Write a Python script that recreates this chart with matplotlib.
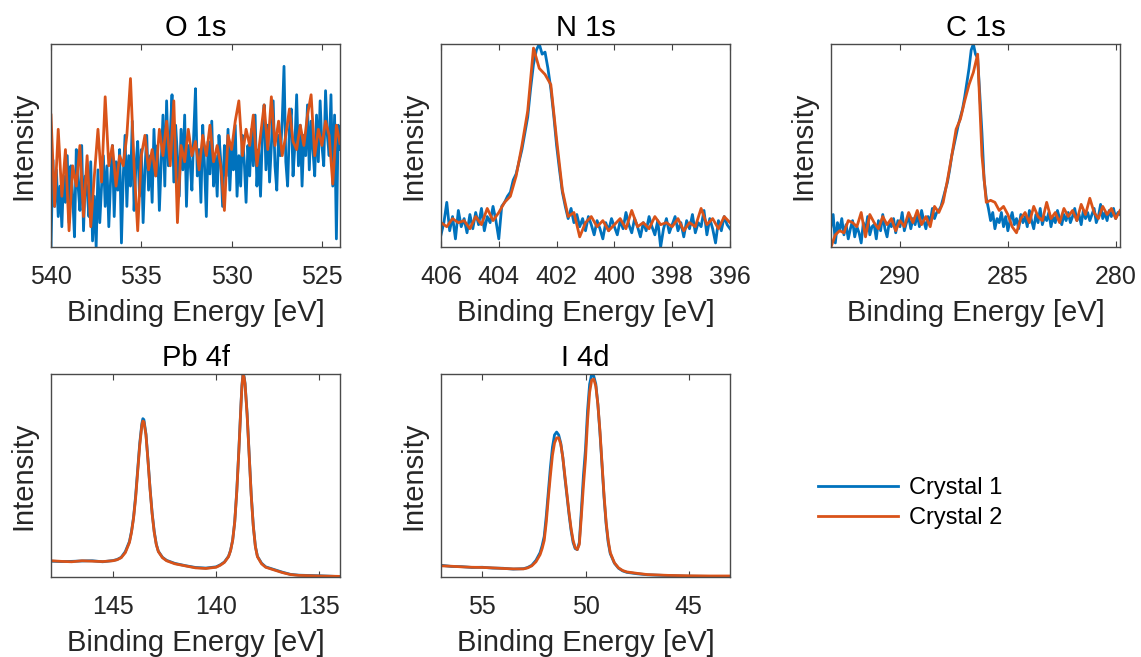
import matplotlib.pyplot as plt
import numpy as np

plt.rcParams['font.family'] = ['Liberation Sans', 'DejaVu Sans']

blue = '#0072BD'
orange = '#D95319'

# O 1s (normalised intensity)
o1s_x1 = np.round(np.arange(540.0, 523.95, -0.1), 2)
o1s_y1 = [0.00, 0.43, 0.20, 0.38, 0.15, 0.30, 0.10, 0.35, 0.22, 0.45,
          0.12, 0.40, 0.25, 0.05, 0.48, 0.30, 0.18, 0.50, 0.08, 0.35,
          0.28, 0.15, 0.42, 0.03, 0.25, 0.00, 0.38, 0.12, 0.30, 0.45,
          0.20, 0.40, 0.10, 0.33, 0.50, 0.15, 0.42, 0.28, 0.48, 0.02,
          0.35, 0.55, 0.20, 0.45, 0.30, 0.62, 0.18, 0.40, 0.52, 0.25,
          0.48, 0.12, 0.38, 0.55, 0.28, 0.45, 0.22, 0.58, 0.35, 0.50,
          0.18, 0.42, 0.65, 0.30, 0.72, 0.40, 0.55, 0.75, 0.32, 0.60,
          0.45, 0.25, 0.58, 0.38, 0.65, 0.20, 0.50, 0.42, 0.28, 0.55,
          0.78, 0.35, 0.48, 0.22, 0.60, 0.40, 0.15, 0.52, 0.36, 0.62,
          0.30, 0.45, 0.25, 0.55, 0.42, 0.20, 0.50, 0.35, 0.58, 0.28,
          0.48, 0.38, 0.60, 0.25, 0.45, 0.30, 0.55, 0.42, 0.22, 0.50,
          0.35, 0.58, 0.40, 0.65, 0.30, 0.48, 0.25, 0.55, 0.70, 0.38,
          0.60, 0.32, 0.50, 0.72, 0.40, 0.28, 0.55, 0.45, 0.62, 0.89,
          0.42, 0.30, 0.58, 0.68, 0.35, 0.50, 0.75, 0.40, 0.60, 0.30,
          0.55, 0.45, 0.70, 0.38, 0.62, 0.48, 0.35, 0.65, 0.42, 0.72,
          0.50, 0.40, 0.77, 0.55, 0.45, 0.75, 0.30, 0.65, 0.04, 0.60,
          0.48]
o1s_x2 = np.round(np.arange(540.0, 523.95, -0.2), 2)
o1s_y2 = [0.65, 0.20, 0.58, 0.25, 0.48, 0.08, 0.40, 0.30, 0.50, 0.15,
          0.45, 0.10, 0.35, 0.58, 0.32, 0.74, 0.40, 0.50, 0.30, 0.45,
          0.40, 0.55, 0.83, 0.40, 0.08, 0.45, 0.55, 0.38, 0.48, 0.35,
          0.58, 0.45, 0.62, 0.40, 0.72, 0.12, 0.50, 0.42, 0.58, 0.45,
          0.52, 0.38, 0.55, 0.45, 0.60, 0.42, 0.50, 0.40, 0.18, 0.55,
          0.48, 0.62, 0.72, 0.45, 0.58, 0.50, 0.65, 0.40, 0.55, 0.70,
          0.48, 0.74, 0.50, 0.62, 0.45, 0.55, 0.68, 0.52, 0.48, 0.60,
          0.50, 0.65, 0.75, 0.45, 0.58, 0.50, 0.62, 0.55, 0.31, 0.60,
          0.51]

# N 1s
n1s_x1 = np.round(np.arange(406.0, 395.95, -0.1), 2)
n1s_y1 = [0.06, 0.12, 0.22, 0.08, 0.15, 0.04, 0.18, 0.10, 0.14, 0.07,
          0.16, 0.09, 0.17, 0.11, 0.19, 0.08, 0.15, 0.12, 0.20, 0.13,
          0.04, 0.20, 0.22, 0.25, 0.27, 0.33, 0.36, 0.42, 0.48, 0.56,
          0.64, 0.78, 0.90, 0.97, 1.00, 0.95, 0.96, 0.88, 0.78, 0.65,
          0.50, 0.38, 0.27, 0.20, 0.14, 0.19, 0.12, 0.16, 0.10, 0.14,
          0.08, 0.15, 0.11, 0.06, 0.13, 0.09, 0.04, 0.12, 0.08, 0.14,
          0.10, 0.06, 0.13, 0.09, 0.17, 0.11, 0.07, 0.14, 0.10, 0.05,
          0.12, 0.08, 0.15, 0.10, 0.06, 0.13, 0.00, 0.09, 0.14, 0.07,
          0.11, 0.15, 0.08, 0.12, 0.05, 0.13, 0.09, 0.16, 0.07, 0.12,
          0.10, 0.18, 0.06, 0.14, 0.09, 0.02, 0.13, 0.08, 0.15, 0.11,
          0.09]
n1s_x2 = np.round(np.arange(406.0, 395.95, -0.2), 2)
n1s_y2 = [0.12, 0.10, 0.14, 0.12, 0.13, 0.09, 0.15, 0.11, 0.19, 0.13,
          0.17, 0.22, 0.25, 0.35, 0.50, 0.67, 0.98, 0.88, 0.85, 0.80,
          0.53, 0.28, 0.15, 0.17, 0.05, 0.12, 0.15, 0.10, 0.13, 0.08,
          0.11, 0.14, 0.09, 0.18, 0.10, 0.12, 0.09, 0.15, 0.11, 0.12,
          0.10, 0.14, 0.08, 0.12, 0.10, 0.19, 0.11, 0.14, 0.09, 0.15,
          0.12]

# C 1s
c1s_x1 = np.round(np.arange(293.2, 279.75, -0.1), 2)
c1s_y1 = [0.10, 0.16, 0.02, 0.12, 0.08, 0.14, 0.06, 0.11, 0.04, 0.09,
          0.13, 0.05, 0.10, 0.07, 0.02, 0.12, 0.08, 0.15, 0.06, 0.10,
          0.11, 0.04, 0.13, 0.08, 0.16, 0.09, 0.05, 0.12, 0.10, 0.14,
          0.07, 0.13, 0.10, 0.17, 0.08, 0.12, 0.15, 0.09, 0.14, 0.11,
          0.16, 0.10, 0.18, 0.13, 0.09, 0.15, 0.12, 0.19, 0.14, 0.17,
          0.18, 0.20, 0.24, 0.28, 0.32, 0.38, 0.45, 0.50, 0.55, 0.60,
          0.64, 0.68, 0.74, 0.81, 0.88, 0.97, 1.00, 0.95, 0.93, 0.75,
          0.56, 0.33, 0.24, 0.19, 0.13, 0.17, 0.09, 0.14, 0.12, 0.17,
          0.10, 0.15, 0.08, 0.13, 0.17, 0.11, 0.14, 0.09, 0.16, 0.12,
          0.15, 0.10, 0.18, 0.13, 0.09, 0.16, 0.12, 0.19, 0.11, 0.15,
          0.13, 0.17, 0.10, 0.15, 0.12, 0.18, 0.14, 0.11, 0.16, 0.13,
          0.17, 0.12, 0.15, 0.19, 0.13, 0.16, 0.11, 0.18, 0.14, 0.17,
          0.13, 0.16, 0.19, 0.12, 0.15, 0.21, 0.14, 0.17, 0.13, 0.18,
          0.15, 0.19, 0.14, 0.17, 0.16]
c1s_x2 = np.round(np.arange(293.2, 279.75, -0.2), 2)
c1s_y2 = [0.00, 0.06, 0.08, 0.07, 0.13, 0.12, 0.10, 0.17, 0.05, 0.16,
          0.12, 0.09, 0.15, 0.11, 0.14, 0.08, 0.13, 0.10, 0.17, 0.12,
          0.18, 0.11, 0.15, 0.10, 0.20, 0.17, 0.22, 0.33, 0.45, 0.58,
          0.63, 0.72, 0.80, 0.86, 0.95, 0.45, 0.22, 0.23, 0.22, 0.18,
          0.20, 0.16, 0.10, 0.07, 0.14, 0.17, 0.12, 0.20, 0.15, 0.13,
          0.22, 0.14, 0.17, 0.12, 0.19, 0.15, 0.18, 0.13, 0.21, 0.16,
          0.24, 0.17, 0.14, 0.20, 0.16, 0.19, 0.14, 0.18]

# Pb 4f
pb_x = [148.0, 147.5, 147.0, 146.5, 146.0, 145.5, 145.0,
        144.8, 144.6, 144.4, 144.2, 144.1, 144.0, 143.9, 143.8, 143.7, 143.6,
        143.55, 143.5, 143.4, 143.3, 143.2, 143.1, 143.0, 142.9, 142.8,
        142.6, 142.4, 142.0, 141.5, 141.0, 140.5, 140.0,
        139.8, 139.6, 139.4, 139.3, 139.2, 139.1, 139.0, 138.9, 138.8,
        138.75, 138.7, 138.65, 138.6, 138.5, 138.4, 138.3, 138.2, 138.1, 138.0,
        137.8, 137.6, 137.2, 136.8, 136.4, 136.0, 135.0, 134.0]
pb_y1 = [0.078, 0.076, 0.077, 0.079, 0.080, 0.075, 0.081,
         0.086, 0.097, 0.125, 0.175, 0.225, 0.295, 0.40, 0.53, 0.66, 0.755,
         0.780, 0.775, 0.705, 0.575, 0.435, 0.315, 0.225, 0.162, 0.127,
         0.097, 0.082, 0.067, 0.056, 0.047, 0.044, 0.050,
         0.060, 0.074, 0.102, 0.132, 0.182, 0.272, 0.425, 0.625, 0.845,
         0.945, 1.000, 0.99, 0.955, 0.805, 0.605, 0.405, 0.252, 0.152, 0.102,
         0.068, 0.050, 0.037, 0.024, 0.013, 0.009, 0.006, 0.002]
pb_y2 = [0.080, 0.077, 0.075, 0.080, 0.078, 0.076, 0.080,
         0.085, 0.095, 0.12, 0.17, 0.22, 0.29, 0.39, 0.52, 0.65, 0.745,
         0.768, 0.765, 0.70, 0.57, 0.43, 0.31, 0.22, 0.16, 0.125,
         0.095, 0.08, 0.065, 0.055, 0.045, 0.042, 0.048,
         0.058, 0.072, 0.10, 0.13, 0.18, 0.27, 0.42, 0.62, 0.84,
         0.94, 0.995, 0.985, 0.95, 0.80, 0.60, 0.40, 0.25, 0.15, 0.10,
         0.065, 0.048, 0.035, 0.022, 0.012, 0.008, 0.005, 0.003]

# I 4d
i4d_x = [57.0, 56.5, 56.0, 55.5, 55.0, 54.5, 54.0, 53.5, 53.0,
         52.8, 52.6, 52.4, 52.2,
         52.1, 52.0, 51.9, 51.8, 51.7, 51.6, 51.5, 51.4, 51.3, 51.2,
         51.1, 51.0, 50.9, 50.8, 50.7, 50.6, 50.5, 50.4, 50.3, 50.2,
         50.1, 50.0, 49.9, 49.8, 49.7, 49.6, 49.5, 49.4, 49.3, 49.2,
         49.1, 49.0, 48.9, 48.8,
         48.6, 48.4, 48.2, 48.0, 47.5, 47.0, 46.0, 45.0, 44.0, 43.0]
i4d_y1 = [0.058, 0.052, 0.051, 0.047, 0.048, 0.044, 0.043, 0.039, 0.041,
          0.047, 0.058, 0.082, 0.12,
          0.155, 0.20, 0.30, 0.42, 0.54, 0.64, 0.70, 0.714, 0.70, 0.66,
          0.59, 0.49, 0.40, 0.31, 0.23, 0.17, 0.14, 0.135, 0.17, 0.33,
          0.50, 0.63, 0.82, 0.95, 1.00, 0.99, 0.95, 0.85, 0.71, 0.55,
          0.39, 0.26, 0.17, 0.115,
          0.068, 0.043, 0.030, 0.023, 0.016, 0.011, 0.007, 0.004, 0.003, 0.002]
i4d_y2 = [0.055, 0.053, 0.050, 0.048, 0.047, 0.045, 0.042, 0.040, 0.040,
          0.045, 0.055, 0.075, 0.11,
          0.14, 0.18, 0.27, 0.39, 0.50, 0.60, 0.66, 0.685, 0.686, 0.655,
          0.59, 0.50, 0.41, 0.32, 0.24, 0.18, 0.145, 0.135, 0.16, 0.30,
          0.45, 0.58, 0.77, 0.91, 0.97, 0.975, 0.94, 0.85, 0.72, 0.56,
          0.40, 0.27, 0.18, 0.12,
          0.07, 0.045, 0.032, 0.025, 0.018, 0.012, 0.008, 0.006, 0.005, 0.005]

panels = [
    ('O 1s', o1s_x1, o1s_y1, o1s_x2, o1s_y2, (540, 524), [540, 535, 530, 525]),
    ('N 1s', n1s_x1, n1s_y1, n1s_x2, n1s_y2, (406, 396), [406, 404, 402, 400, 398, 396]),
    ('C 1s', c1s_x1, c1s_y1, c1s_x2, c1s_y2, (293.2, 279.8), [290, 285, 280]),
    ('Pb 4f', pb_x, pb_y1, pb_x, pb_y2, (148, 134), [145, 140, 135]),
    ('I 4d', i4d_x, i4d_y1, i4d_x, i4d_y2, (57, 43), [55, 50, 45]),
]

W, H = 1141, 657
lefts = [51, 441, 831]
tops = [44, 374]
aw, ah = 289, 203

fig = plt.figure(figsize=(W / 100, H / 100), dpi=100)
handles = None
for i, (name, xa, ya, xb, yb, xl, ticks) in enumerate(panels):
    l = lefts[i % 3]
    t = tops[i // 3]
    ax = fig.add_axes([l / W, 1 - (t + ah) / H, aw / W, ah / H])
    h1, = ax.plot(xa, ya, color=blue, lw=2.0, label='Crystal 1')
    h2, = ax.plot(xb, yb, color=orange, lw=2.0, label='Crystal 2')
    handles = [h1, h2]
    ax.set_xlim(*xl)
    ax.set_ylim(0, 1)
    ax.set_xticks(ticks)
    ax.set_yticks([])
    ax.tick_params(axis='x', direction='in', top=True, length=4, width=0.8,
                   color='#404040', labelsize=18, labelcolor='#262626', pad=13)
    for s in ax.spines.values():
        s.set_color('#4a4a4a')
        s.set_linewidth(1.0)
    ax.set_title(name, fontsize=21, pad=6)
    ax.set_xlabel('Binding Energy [eV]', fontsize=21, color='#262626', labelpad=7.5)
    ax.set_ylabel('Intensity', fontsize=21, color='#262626', labelpad=10)

fig.legend(handles, ['Crystal 1', 'Crystal 2'], loc='center left',
           bbox_to_anchor=(818 / W, 1 - 503 / H), frameon=False, fontsize=17,
           handlelength=3.4, handletextpad=0.45, labelspacing=0.33,
           borderpad=0, borderaxespad=0)

fig.savefig('out.png', dpi=100)
